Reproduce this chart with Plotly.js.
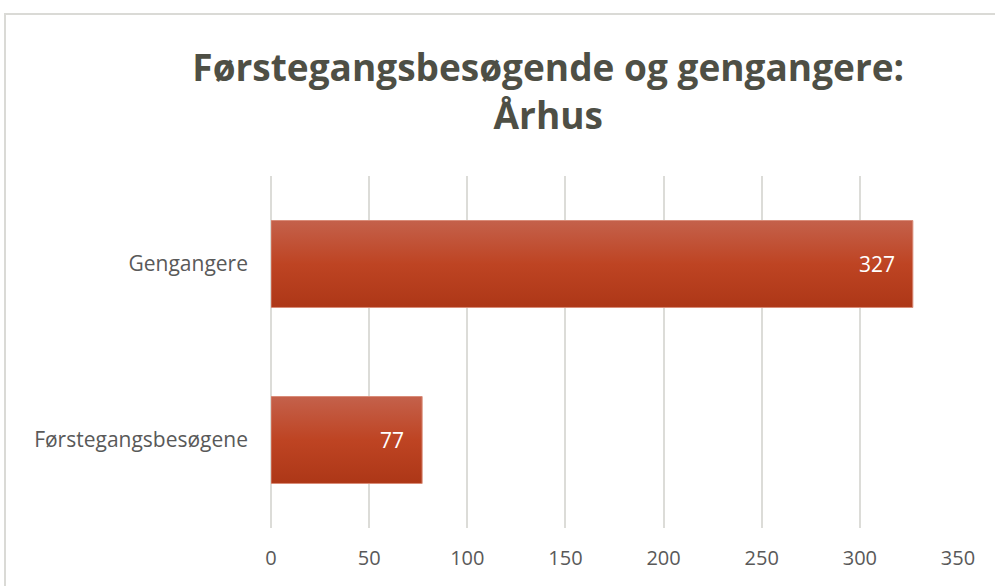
<!DOCTYPE html>
<html>
<head>
<meta charset="utf-8">
<script src="https://cdn.plot.ly/plotly-3.0.1.min.js"></script>
<style>
html,body{margin:0;padding:0;background:#fff;overflow:hidden;}
#frame{position:absolute;left:4px;top:13px;width:1100px;height:700px;border:2px solid #DADAD6;box-sizing:border-box;pointer-events:none;z-index:2;}
#chart{position:absolute;left:0;top:0;width:995px;height:586px;}
</style>
</head>
<body>
<div id="chart"></div>
<div id="frame"></div>
<script>
// Data
const categories = ["Førstegangsbesøgene", "Gengangere"];
const values = [77, 327];
const xTicks = [0, 50, 100, 150, 200, 250, 300, 350];
const titleText = "Førstegangsbesøgende og gengangere:<br>Århus";

const trace = {
  type: "bar",
  orientation: "h",
  y: categories,
  x: values,
  width: 0.494,
  marker: { color: "#BA4222", line: { color: "#D98C78", width: 1 } },
  hoverinfo: "none"
};

const annotations = values.map((v, i) => ({
  x: v, y: categories[i], xref: "x", yref: "y",
  text: String(v), showarrow: false, xanchor: "right", xshift: -16,
  font: { family: "Open Sans, sans-serif", size: 21, color: "#FFFFFF" }
}));

const layout = {
  width: 995, height: 586,
  margin: { l: 271, r: 37, t: 176, b: 58, pad: 0 },
  paper_bgcolor: "#FFFFFF", plot_bgcolor: "#FFFFFF",
  showlegend: false,
  title: {
    text: titleText,
    x: 0.551, xanchor: "center",
    y: 0.862, yanchor: "middle",
    font: { family: "Open Sans, sans-serif", size: 37, color: "#4E4F45", weight: "bold" }
  },
  xaxis: {
    range: [0, 350], tickvals: xTicks, ticktext: xTicks.map(String),
    showgrid: true, gridcolor: "#DCDCD8", gridwidth: 2,
    zeroline: true, zerolinecolor: "#DCDCD8", zerolinewidth: 2,
    showline: false,
    ticks: "", ticklabelstandoff: 16,
    tickfont: { family: "Open Sans, sans-serif", size: 20, color: "#595959" },
    fixedrange: true
  },
  yaxis: {
    type: "category", categoryorder: "array", categoryarray: categories,
    range: [-0.5, 1.5],
    showgrid: false, zeroline: false, showline: false,
    ticks: "", ticklabelstandoff: 22,
    tickfont: { family: "Open Sans, sans-serif", size: 21, color: "#595959" },
    fixedrange: true
  },
  annotations: annotations
};

Plotly.newPlot("chart", [trace], layout, { staticPlot: true, displayModeBar: false }).then(gd => {
  const svg = gd.querySelector("svg.main-svg");
  const ns = "http://www.w3.org/2000/svg";
  let defs = svg.querySelector("defs");
  if (!defs) { defs = document.createElementNS(ns, "defs"); svg.insertBefore(defs, svg.firstChild); }
  const grad = document.createElementNS(ns, "linearGradient");
  grad.setAttribute("id", "barGrad");
  grad.setAttribute("x1", "0"); grad.setAttribute("y1", "0");
  grad.setAttribute("x2", "0"); grad.setAttribute("y2", "1");
  [["0", "#C4614B"], ["0.5", "#BE4423"], ["1", "#AD3717"]].forEach(([o, c]) => {
    const s = document.createElementNS(ns, "stop");
    s.setAttribute("offset", o); s.setAttribute("stop-color", c);
    grad.appendChild(s);
  });
  defs.appendChild(grad);
  gd.querySelectorAll(".barlayer .point path").forEach(p => {
    p.style.fill = "url(#barGrad)";
  });
});
</script>
</body>
</html>
